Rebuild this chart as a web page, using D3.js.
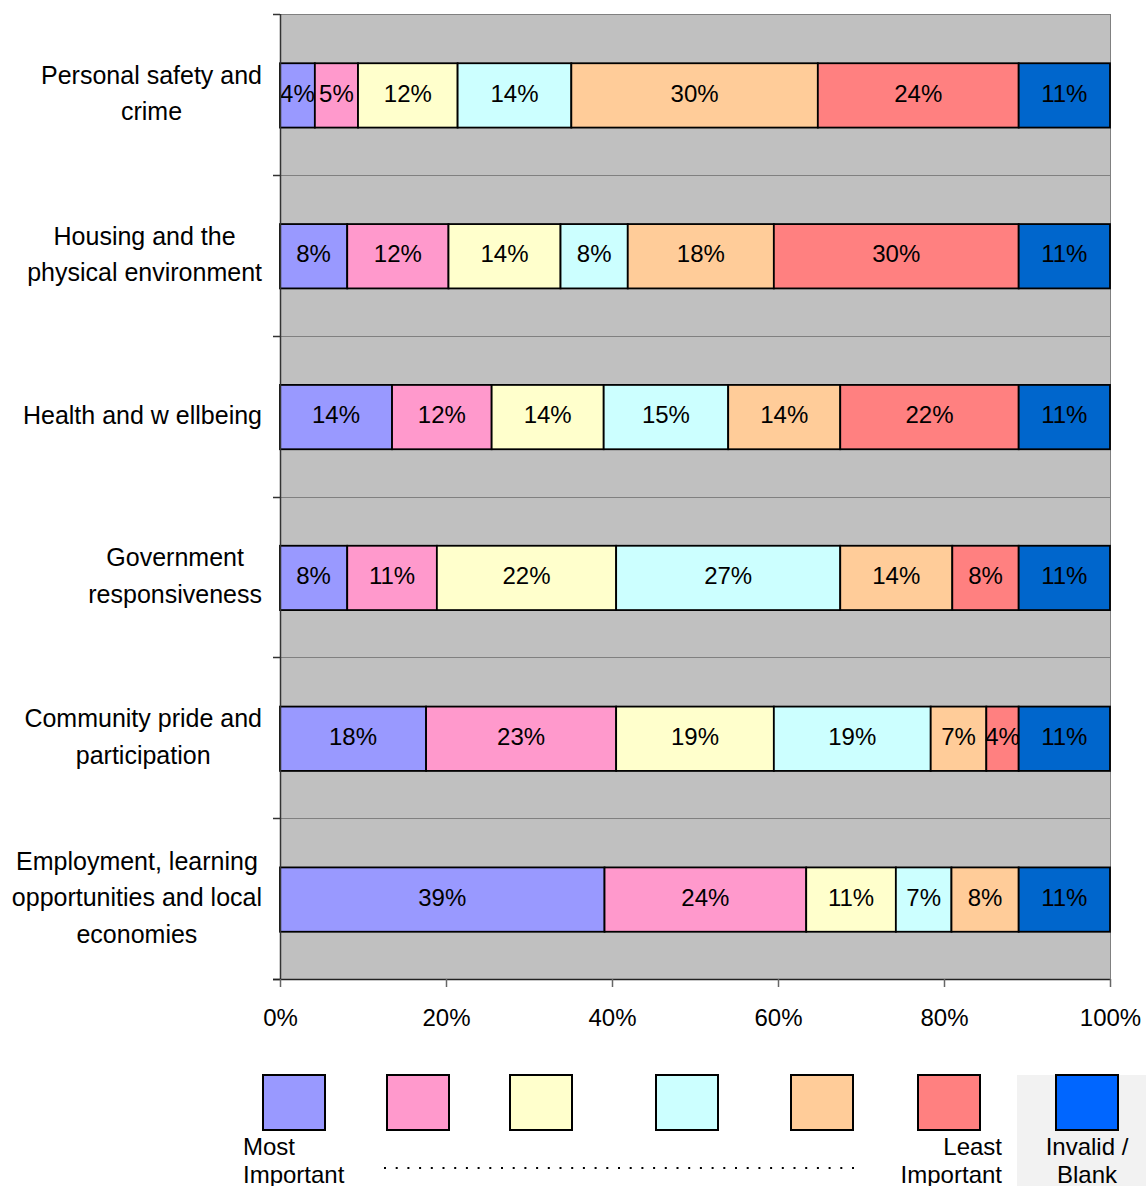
<!DOCTYPE html>
<html>
<head>
<meta charset="utf-8">
<script src="https://cdn.jsdelivr.net/npm/d3@7"></script>
<style>
  body { margin: 0; background: #fff; }
  svg { display: block; font-family: 'Liberation Sans', Arial, sans-serif; }
</style>
</head>
<body>
<svg id="chart" width="1146" height="1186"></svg>
<script>
// categories, top to bottom ('|' marks a line break)
const categories = [
  'Personal safety and|crime',
  'Housing and the|physical environment',
  'Health and w ellbeing',
  'Government|responsiveness',
  'Community pride and|participation',
  'Employment, learning|opportunities and local|economies',
]

const seriesNames = ['Most Important', '2', '3', '4', '5', 'Least Important', 'Invalid / Blank']
const seriesColors = ['#9999FF', '#FF99CC', '#FFFFCC', '#CCFFFF', '#FFCC99', '#FF8080', '#0066CC']

// percentages per series, one value per category
const rank1 = [4.2, 8.1, 13.5, 8.1, 17.6, 39.1]
const rank2 = [5.2, 12.2, 12.0, 10.8, 22.9, 24.3]
const rank3 = [12.0, 13.5, 13.5, 21.6, 19.0, 10.8]
const rank4 = [13.7, 8.1, 15.0, 27.0, 18.9, 6.7]
const rank5 = [29.7, 17.6, 13.5, 13.5, 6.7, 8.1]
const rank6 = [24.2, 29.5, 21.5, 8.0, 3.9, 0]
const invalid = [11.0, 11.0, 11.0, 11.0, 11.0, 11.0]

const xTicks = [0, 20, 40, 60, 80, 100]

window.addEventListener('load', makeChart)
function makeChart() {
  const svg = d3.select('#chart')
  const left = 280,
    right = 1110,
    top = 14,
    bottom = 979

  const series = [rank1, rank2, rank3, rank4, rank5, rank6, invalid]
  const rows = categories.map((c, i) => {
    const row = { cat: c }
    seriesNames.forEach((s, j) => (row[s] = series[j][i]))
    return row
  })
  const stacked = d3.stack().keys(seriesNames)(rows)

  const scX = d3.scaleLinear().domain([0, 100]).range([left, right])
  const scY = d3
    .scaleBand()
    .domain(categories)
    .range([top, bottom])
    .paddingInner(0.6)
    .paddingOuter(0.3)
  const step = scY.step()

  // plot background
  svg
    .append('rect')
    .attr('x', left)
    .attr('y', top)
    .attr('width', right - left)
    .attr('height', bottom - top)
    .attr('fill', '#C0C0C0')

  // gridlines between categories
  const bounds = d3.range(categories.length + 1).map((i) => top + i * step)
  svg
    .append('g')
    .selectAll('line')
    .data(bounds.slice(0, -1))
    .enter()
    .append('line')
    .attr('x1', left)
    .attr('x2', right)
    .attr('y1', (d) => Math.round(d) + 0.5)
    .attr('y2', (d) => Math.round(d) + 0.5)
    .attr('stroke', '#808080')
    .attr('stroke-width', 1)

  svg
    .append('line')
    .attr('x1', right + 0.5)
    .attr('x2', right + 0.5)
    .attr('y1', top)
    .attr('y2', bottom)
    .attr('stroke', '#808080')

  // stacked segments
  const layers = svg
    .append('g')
    .selectAll('g')
    .data(stacked)
    .enter()
    .append('g')
    .attr('fill', (d, i) => seriesColors[i])

  layers
    .selectAll('rect')
    .data((d) => d.filter((p) => p[1] - p[0] > 0))
    .enter()
    .append('rect')
    .attr('x', (d) => scX(d[0]))
    .attr('y', (d) => scY(d.data.cat) + 1)
    .attr('width', (d) => scX(d[1]) - scX(d[0]))
    .attr('height', scY.bandwidth())
    .attr('stroke', '#000')
    .attr('stroke-width', 1.8)

  // value labels
  const labels = []
  stacked.forEach((layer) =>
    layer.forEach((p) => {
      if (p[1] - p[0] > 0) labels.push(p)
    })
  )
  svg
    .append('g')
    .selectAll('text')
    .data(labels)
    .enter()
    .append('text')
    .attr('x', (d) => (scX(d[0]) + scX(d[1])) / 2)
    .attr('y', (d) => scY(d.data.cat) + scY.bandwidth() / 2)
    .attr('dy', '0.3em')
    .attr('text-anchor', 'middle')
    .attr('font-size', 24)
    .attr('fill', '#000')
    .text((d) => Math.round(d[1] - d[0]) + '%')

  // y axis
  svg
    .append('line')
    .attr('x1', left + 0.5)
    .attr('x2', left + 0.5)
    .attr('y1', top)
    .attr('y2', bottom)
    .attr('stroke', '#333')
    .attr('stroke-width', 1.5)
  svg
    .append('g')
    .selectAll('line')
    .data(bounds)
    .enter()
    .append('line')
    .attr('x1', left - 7)
    .attr('x2', left)
    .attr('y1', (d) => Math.round(d) + 0.5)
    .attr('y2', (d) => Math.round(d) + 0.5)
    .attr('stroke', '#333')
    .attr('stroke-width', 1.5)

  // x axis
  const xAxis = svg
    .append('g')
    .attr('transform', `translate(0,${bottom})`)
    .call(
      d3
        .axisBottom(scX)
        .tickValues(xTicks)
        .tickSize(8)
        .tickPadding(22)
        .tickFormat((d) => d + '%')
    )
  xAxis.select('.domain').attr('d', `M${left - 7},0.5H${right}`).attr('stroke', '#222').attr('stroke-width', 1.5)
  xAxis.selectAll('.tick line').attr('stroke', '#666').attr('stroke-width', 1.5)
  xAxis
    .selectAll('.tick text')
    .attr('font-size', 24)
    .attr('font-family', "'Liberation Sans', Arial, sans-serif")
    .attr('fill', '#000')

  // category labels: centred lines, block right-aligned at x=262
  const lineH = 36.5
  categories.forEach((c) => {
    const lines = c.split('|')
    const g = svg.append('g')
    const cy = scY(c) + scY.bandwidth() / 2
    const ts = g
      .selectAll('text')
      .data(lines)
      .enter()
      .append('text')
      .attr('y', (d, i) => cy + (i - (lines.length - 1) / 2) * lineH)
      .attr('dy', '0.3em')
      .attr('text-anchor', 'middle')
      .attr('font-size', 25)
      .attr('fill', '#000')
      .text((d) => d)
    const w = d3.max(ts.nodes(), (n) => n.getComputedTextLength())
    ts.attr('x', 262 - w / 2)
  })

  // legend
  const legBoxX = [263, 387, 510, 656, 791, 918, 1056]
  svg
    .append('rect')
    .attr('x', 1017)
    .attr('y', 1075)
    .attr('width', 129)
    .attr('height', 111)
    .attr('fill', '#F2F2F2')
  const legColors = seriesColors.slice(0, 6).concat(['#0066FF'])
  svg
    .append('g')
    .selectAll('rect')
    .data(legColors)
    .enter()
    .append('rect')
    .attr('x', (d, i) => legBoxX[i])
    .attr('y', 1075)
    .attr('width', 62)
    .attr('height', 55)
    .attr('fill', (d) => d)
    .attr('stroke', '#000')
    .attr('stroke-width', 2)

  const legText = [
    { x: 243, anchor: 'start', lines: ['Most', 'Important'] },
    { x: 1002, anchor: 'end', lines: ['Least', 'Important'] },
    { x: 1087, anchor: 'middle', lines: ['Invalid /', 'Blank'] },
  ]
  legText.forEach((t) => {
    svg
      .append('g')
      .selectAll('text')
      .data(t.lines)
      .enter()
      .append('text')
      .attr('x', t.x)
      .attr('y', (d, i) => 1147 + i * 28)
      .attr('dy', '0.35em')
      .attr('text-anchor', t.anchor)
      .attr('font-size', 24)
      .attr('fill', '#000')
      .text((d) => d)
  })

  svg
    .append('line')
    .attr('x1', 384)
    .attr('x2', 854)
    .attr('y1', 1168)
    .attr('y2', 1168)
    .attr('stroke', '#000')
    .attr('stroke-width', 2)
    .attr('stroke-dasharray', '2 9.7')
}
</script>
</body>
</html>
